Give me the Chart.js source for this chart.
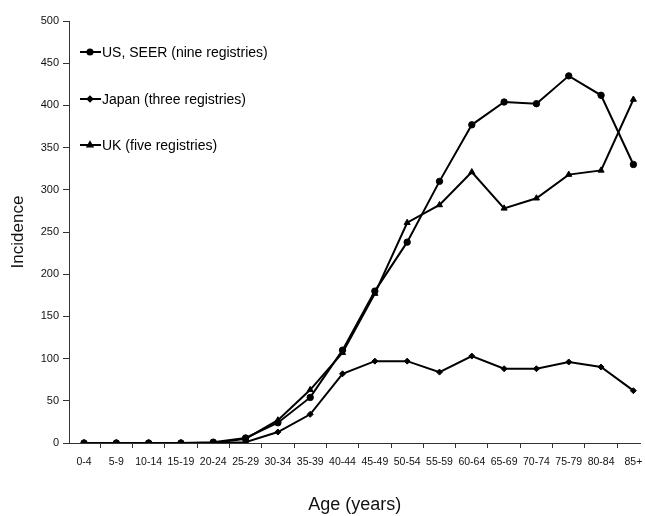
<!DOCTYPE html>
<html><head><meta charset="utf-8">
<script src="https://cdn.jsdelivr.net/npm/chart.js@4/dist/chart.umd.min.js"></script>
<style>html,body{margin:0;padding:0;background:#fff}#wrap{width:645px;height:516px}</style>
</head><body><div id="wrap"><canvas id="c" width="645" height="516"></canvas></div>
<script>
const ageGroups = ["0-4","5-9","10-14","15-19","20-24","25-29","30-34","35-39","40-44","45-49","50-54","55-59","60-64","65-69","70-74","75-79","80-84","85+"];
const usSeer = [0,0,0,0,1,6,24,54,110,180,238,310,377,404,402,435,412,330];
const japan  = [0,0,0,0,0,1,13,34,82,97,97,84,103,88,88,96,90,62];
const uk     = [0,0,0,0,0,5,27,63,107,177,261,282,321,278,290,318,323,407];
const seriesLabels = ["US, SEER (nine registries)","Japan (three registries)","UK (five registries)"];
const yTicks = [0,50,100,150,200,250,300,350,400,450,500];

const toXY = arr => arr.map((v,i)=>({x:i,y:v}));
const FONT = "'Liberation Sans', Arial, sans-serif";

const legendPlugin = {
  id:'inlineLegend',
  afterDraw(chart){
    const ctx = chart.ctx;
    const ys = [52,99,145];
    chart.data.datasets.forEach((ds,i)=>{
      const y = ys[i];
      ctx.save();
      ctx.strokeStyle = '#000'; ctx.lineWidth = 2;
      ctx.beginPath(); ctx.moveTo(80,y); ctx.lineTo(101,y); ctx.stroke();
      ctx.fillStyle='#000';
      Chart.helpers.drawPoint(ctx,{pointStyle:ds.pointStyle,radius:ds.pointRadius*0.8,borderWidth:1},90,y);
      ctx.fill();
      ctx.font = "14px " + FONT;
      ctx.textBaseline='middle';
      ctx.fillText(ds.label,102,y+1);
      ctx.restore();
    });
  }
};

const mk = (label,data,style,r)=>({label,data:toXY(data),borderColor:'#000',backgroundColor:'#000',borderWidth:2,
  pointStyle:style,pointRadius:r,pointHoverRadius:r,pointBorderWidth:1,tension:0});

new Chart(document.getElementById('c'),{
  type:'line',
  data:{datasets:[
    mk(seriesLabels[0],usSeer,'circle',3.2),
    mk(seriesLabels[1],japan,'rectRot',3),
    mk(seriesLabels[2],uk,'triangle',3.5)
  ]},
  options:{
    responsive:false, animation:false, devicePixelRatio:1,
    layout:{padding:{left:0,right:0,top:21,bottom:0}},
    plugins:{legend:{display:false},tooltip:{enabled:false}},
    scales:{
      x:{type:'linear',min:-0.464,max:17.22,
        afterBuildTicks(s){s.ticks = ageGroups.map((_,i)=>({value:i}));},
        afterFit(s){s.height=73; s.paddingLeft=0; s.paddingRight=0;},
        ticks:{autoSkip:false,maxRotation:0,padding:8,color:'#111',font:{family:FONT,size:10.5},
          callback:(v)=>ageGroups[v]},
        grid:{offset:true,drawOnChartArea:false,tickLength:5,color:'#333',tickColor:'#333'},
        border:{color:'#333',width:1},
        title:{display:true,text:'Age (years)',color:'#111',font:{family:FONT,size:18},padding:{top:0,bottom:0}}
      },
      y:{min:0,max:500,
        afterBuildTicks(s){s.ticks = yTicks.map(v=>({value:v}));},
        afterFit(s){s.width=69;},
        ticks:{padding:4,color:'#111',font:{family:FONT,size:11}},
        grid:{drawOnChartArea:false,tickLength:6,color:'#333',tickColor:'#333'},
        border:{color:'#333',width:1},
        title:{display:true,text:'Incidence',color:'#111',font:{family:FONT,size:17},padding:{top:8,bottom:0}}
      }
    }
  },
  plugins:[legendPlugin]
});
</script></body></html>
